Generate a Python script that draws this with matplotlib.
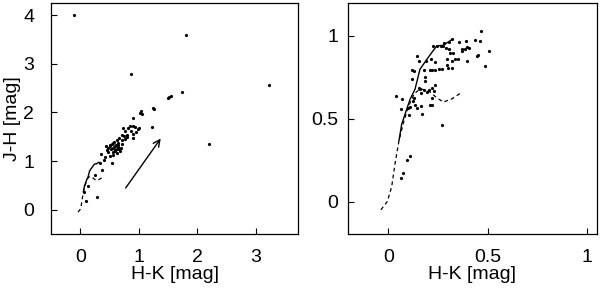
import matplotlib
matplotlib.use("Agg")
import matplotlib.pyplot as plt

plt.rcParams['font.family'] = ['Liberation Sans', 'DejaVu Sans']

# Left panel data (H-K, J-H)
left_hk = [-0.10, 1.80, 0.866, 3.23, 1.74, 2.19, 1.545, 1.49, 1.51, 1.234, 1.26,
           1.03, 1.02, 1.06, 0.905, 1.217, 0.85, 0.894, 0.82, 0.736, 0.764, 0.945,
           1.007, 0.99, 0.894, 0.905, 0.79, 0.747, 0.80, 0.707, 0.668, 0.62, 0.566,
           0.594, 0.54, 0.51, 0.566, 0.62, 0.594, 0.555, 0.65, 0.69, 0.44, 0.464,
           0.356, 0.424, 0.51, 0.543, 0.407, 0.34, 0.368, 0.255, 0.283, 0.125,
           0.068, 0.10, 0.58, 0.61, 0.64, 0.53, 0.60, 0.66, 0.50, 0.57, 0.68, 0.48,
           0.62, 0.56, 0.65, 0.71, 0.47, 0.72, 0.76, 0.86, 0.93]
left_jh = [4.00, 3.60, 2.79, 2.56, 2.43, 1.35, 2.33, 2.30, 2.31, 2.09, 2.075,
           2.03, 1.99, 1.97, 1.88, 1.70, 1.73, 1.73, 1.68, 1.68, 1.62, 1.59,
           1.68, 1.66, 1.56, 1.47, 1.54, 1.51, 1.49, 1.54, 1.47, 1.44, 1.38,
           1.30, 1.36, 1.30, 1.27, 1.25, 1.22, 1.18, 1.32, 1.27, 1.30, 1.22,
           1.15, 1.08, 1.10, 0.96, 1.03, 0.96, 0.81, 0.72, 0.27, 0.48,
           0.36, 0.17, 1.28, 1.33, 1.29, 1.24, 1.20, 1.25, 1.34, 1.40, 1.20, 1.27,
           1.16, 1.13, 1.38, 1.35, 1.19, 1.43, 1.46, 1.62, 1.70]

# Right panel data (H-K, J-H)
right_hk = [0.037, 0.067, 0.064, 0.10, 0.109, 0.106, 0.126, 0.121, 0.121, 0.129,
            0.134, 0.142, 0.131, 0.146, 0.154, 0.164, 0.168, 0.152, 0.159, 0.162,
            0.184, 0.184, 0.189, 0.179, 0.193, 0.204, 0.213, 0.209, 0.218, 0.218,
            0.209, 0.221, 0.218, 0.233, 0.231, 0.233, 0.235, 0.226, 0.246, 0.265,
            0.276, 0.256, 0.270, 0.293, 0.298, 0.318, 0.268, 0.281, 0.307, 0.318,
            0.288, 0.305, 0.310, 0.327, 0.296, 0.320, 0.335, 0.352, 0.355, 0.369,
            0.369, 0.385, 0.389, 0.394, 0.394, 0.407, 0.437, 0.444, 0.449, 0.461,
            0.466, 0.487, 0.508, 0.064, 0.075, 0.095, 0.109, 0.181]
right_jh = [0.638, 0.620, 0.560, 0.566, 0.572, 0.520, 0.608, 0.737, 0.794, 0.788,
            0.580, 0.562, 0.624, 0.877, 0.850, 0.578, 0.529, 0.687, 0.677, 0.657,
            0.749, 0.729, 0.850, 0.675, 0.663, 0.675, 0.859, 0.794, 0.792, 0.687,
            0.580, 0.580, 0.622, 0.705, 0.665, 0.842, 0.792, 0.939, 0.939, 0.939,
            0.939, 0.802, 0.802, 0.822, 0.804, 0.806, 0.459, 0.954, 0.960, 0.980,
            0.929, 0.923, 0.899, 0.899, 0.859, 0.846, 0.859, 0.859, 0.964, 0.909,
            0.923, 0.923, 0.968, 0.935, 0.848, 0.929, 0.976, 0.879, 0.887, 0.966,
            1.028, 0.818, 0.907, 0.139, 0.172, 0.250, 0.273, 0.794]

# Intrinsic sequences
giant_hk = [0.054, 0.067, 0.089, 0.109, 0.134, 0.159, 0.20, 0.243, 0.276, 0.318]
giant_jh = [0.37, 0.465, 0.545, 0.616, 0.677, 0.798, 0.869, 0.939, 0.943, 0.976]
dwarf_hk = [-0.037, -0.005, 0.017, 0.034, 0.054, 0.075, 0.10, 0.13, 0.16, 0.20,
            0.24, 0.276, 0.32, 0.37]
dwarf_jh = [-0.05, 0.0, 0.09, 0.23, 0.37, 0.47, 0.57, 0.65, 0.68, 0.67,
            0.63, 0.60, 0.62, 0.66]

# Reddening vector (start, end)
arrow_start = (0.747, 0.40)
arrow_end = (1.40, 1.51)

fig = plt.figure(figsize=(6, 2.88), dpi=100)
ax1 = fig.add_axes([0.085, 0.1875, 0.412, 0.802])
ax2 = fig.add_axes([0.5795, 0.1875, 0.415, 0.802])

for ax in (ax1, ax2):
    ax.plot(giant_hk, giant_jh, color='black', lw=1.0)
    ax.plot(dwarf_hk, dwarf_jh, color='black', lw=0.9, dashes=(3, 2.5))
    ax.tick_params(direction='in', length=4, width=0.8, labelsize=14,
                   top=False, right=False)
    ax.tick_params(axis='x', pad=10.5)
    for s in ax.spines.values():
        s.set_linewidth(0.9)
    ax.set_xlabel('H-K [mag]', fontsize=14, labelpad=0)

ax1.tick_params(axis='y', pad=12)
ax2.tick_params(axis='y', pad=7)

ax1.plot(left_hk, left_jh, 'o', color='black', ms=2.3, mew=0)
ax2.plot(right_hk, right_jh, 'o', color='black', ms=2.3, mew=0)

ax1.annotate('', xy=arrow_end, xytext=arrow_start,
             arrowprops=dict(arrowstyle='->', lw=1.0, color='black',
                             mutation_scale=12))

ax1.set_xlim(-0.5, 3.72)
ax1.set_ylim(-0.5, 4.25)
ax1.set_xticks([0, 1, 2, 3])
ax1.set_yticks([0, 1, 2, 3, 4])
ax1.set_ylabel('J-H [mag]', fontsize=14, labelpad=2)

ax2.set_xlim(-0.204, 1.047)
ax2.set_ylim(-0.196, 1.198)
ax2.set_xticks([0, 0.5, 1])
ax2.set_xticklabels(['0', '0.5', '1'])
ax2.set_yticks([0, 0.5, 1])
ax2.set_yticklabels(['0', '0.5', '1'])

fig.savefig('out.png', dpi=100)
